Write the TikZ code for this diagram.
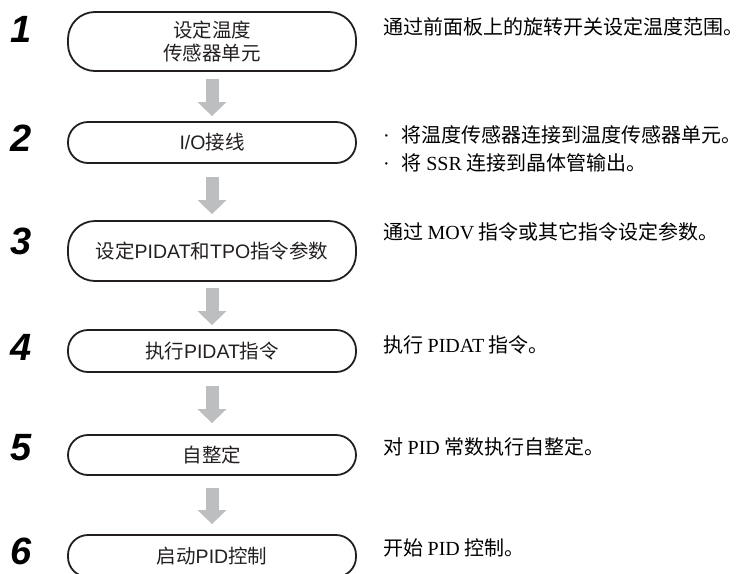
\documentclass[tikz,border=0pt]{standalone}
\usepackage{fontspec}
\setmainfont{Liberation Serif}
\newfontfamily\cjk{Noto Sans CJK SC}
\newfontfamily\lsans{Liberation Sans}
\newfontfamily\lserif{Liberation Serif}
\newfontfamily\numfont{Liberation Sans}
\usetikzlibrary{arrows.meta}
\definecolor{arrowgray}{RGB}{188,190,192}
\definecolor{ink}{RGB}{35,31,32}
\begin{document}
\begin{tikzpicture}[x=1pt,y=-1pt,
  stepbox/.style={draw=ink, line width=1.8pt, rounded corners=20pt, minimum width=288pt,
    inner sep=0pt, align=center, font=\cjk\fontsize{19.5}{23}\selectfont, text=ink},
  bigbox/.style={stepbox, rounded corners=27pt},
  stepnum/.style={inner sep=0pt, font=\numfont\bfseries\itshape\fontsize{38}{38}\selectfont, text=black},
  note/.style={anchor=west, inner sep=0pt, font=\cjk\fontsize{20}{26}\selectfont, text=black},
  flow/.style={draw=arrowgray, line width=13pt, -{Triangle[width=28pt,length=14pt]}}
]
\clip (0,0) rectangle (743,573);

% step boxes
\node[bigbox, minimum height=59pt] (b1) at (212,41.5) {设定温度\\传感器单元};
\node[stepbox, minimum height=41pt] (b2) at (212,142.5) {{\lsans I/O}接线};
\node[bigbox, minimum height=60pt] (b3) at (212,251) {设定{\lsans PIDAT}和{\lsans TPO}指令参数};
\node[stepbox, minimum height=42pt] (b4) at (212,351) {执行{\lsans PIDAT}指令};
\node[stepbox, minimum height=40pt] (b5) at (212,455) {自整定};
\node[stepbox, minimum height=42pt] (b6) at (212,556) {启动{\lsans PID}控制};

% step numbers
\node[stepnum] (n1) at (21,29) {1};
\node[stepnum] (n2) at (21,138) {2};
\node[stepnum] (n3) at (21,241) {3};
\node[stepnum] (n4) at (21,347) {4};
\node[stepnum] (n5) at (21,448) {5};
\node[stepnum] (n6) at (21,551) {6};

% flow arrows
\draw[flow] ([yshift=-7pt]b1.south) -- ([yshift=5pt]b2.north);
\draw[flow] ([yshift=-13pt]b2.south) -- ([yshift=6pt]b3.north);
\draw[flow] ([yshift=-6pt]b3.south) -- ([yshift=4pt]b4.north);
\draw[flow] ([yshift=-13pt]b4.south) -- ([yshift=11pt]b5.north);
\draw[flow] ([yshift=-12pt]b5.south) -- ([yshift=10pt]b6.north);

% notes
\node[note] (t1) at (383,27) {通过前面板上的旋转开关设定温度范围。};
\node[note] (t2a) at (383,135) {{\lserif ·}\hspace{12pt}将温度传感器连接到温度传感器单元。};
\node[note] (t2b) at (383,163) {{\lserif ·}\hspace{12pt}将 {\lserif SSR} 连接到晶体管输出。};
\node[note] (t3) at (383,232) {通过 {\lserif MOV} 指令或其它指令设定参数。};
\node[note] (t4) at (383,345) {执行 {\lserif PIDAT} 指令。};
\node[note] (t5) at (383,447) {对 {\lserif PID} 常数执行自整定。};
\node[note] (t6) at (383,548) {开始 {\lserif PID} 控制。};
\end{tikzpicture}
\end{document}
